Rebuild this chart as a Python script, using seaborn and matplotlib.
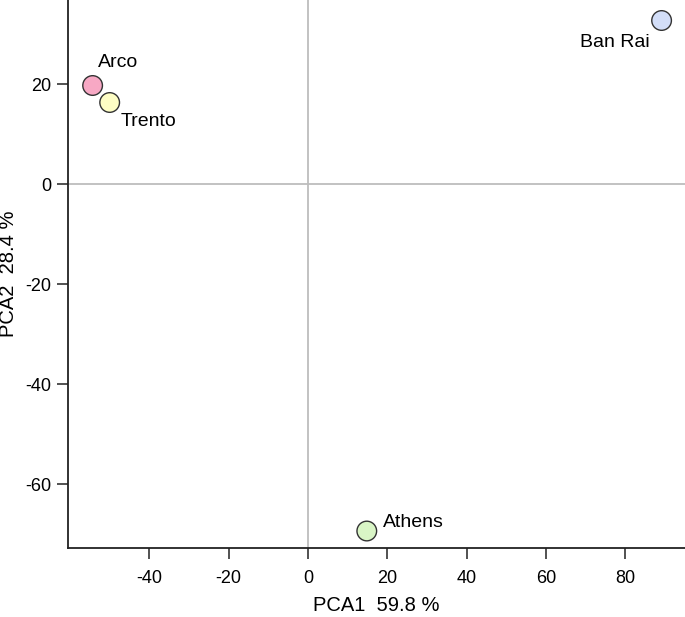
import pandas as pd
import matplotlib.pyplot as plt
import seaborn as sns

# PCA scores
sites = ["Arco", "Trento", "Ban Rai", "Athens"]
pca1 = [-54.3, -50.0, 89.1, 14.8]
pca2 = [19.7, 16.3, 32.7, -69.4]
colors = ["#f7a8c4", "#fdfdc4", "#d3def8", "#d9f5c6"]

data = pd.DataFrame({"site": sites, "PCA1": pca1, "PCA2": pca2})

sns.set_style("ticks")
plt.rcParams["font.family"] = ["Liberation Sans", "DejaVu Sans"]
plt.rcParams["axes.unicode_minus"] = False

fig = plt.figure(figsize=(6.85, 6.17), dpi=100)
ax = fig.add_axes([0.0993, 0.1118, 0.9007, 0.8882])

ax.axhline(0, color="#bdbdbd", lw=1.3, zorder=0)
ax.axvline(0, color="#bdbdbd", lw=1.3, zorder=0)

sns.scatterplot(data=data, x="PCA1", y="PCA2", hue="site", palette=colors,
                s=200, edgecolor="#333333", linewidth=1.0, legend=False, ax=ax, zorder=3)

# label placement (offsets in points)
offsets = {"Arco": (3.6, 16.5, "left"), "Trento": (8, -13.7, "left"),
           "Ban Rai": (-8.6, -15.5, "right"), "Athens": (11.5, 5.8, "left")}
for s, x, y in zip(sites, pca1, pca2):
    dx, dy, ha = offsets[s]
    ax.annotate(s, (x, y), xytext=(dx, dy), textcoords="offset points",
                ha=ha, va="center", fontsize=14, color="black")

ax.set_xlim(-60.5, 95)
ax.set_ylim(-72.8, 36.8)
ax.set_xticks([-40, -20, 0, 20, 40, 60, 80])
ax.set_yticks([-60, -40, -20, 0, 20])
ax.set_xlabel("PCA1  59.8 %", fontsize=14.5, color="black")
ax.set_ylabel("PCA2  28.4 %", fontsize=14.5, color="black")
ax.xaxis.set_label_coords(0.5, -0.104)
ax.xaxis.label.set_va("center")
ax.yaxis.set_label_coords(-0.097, 0.5)
ax.yaxis.label.set_va("center")
ax.tick_params(labelsize=13, length=8, width=1.1, color="#222222", labelcolor="black")
ax.tick_params(axis="x", pad=8)
ax.tick_params(axis="y", pad=4)
sns.despine(ax=ax)
for sp in ["left", "bottom"]:
    ax.spines[sp].set_linewidth(1.3)
    ax.spines[sp].set_color("#222222")

fig.savefig("out.png", dpi=100)
